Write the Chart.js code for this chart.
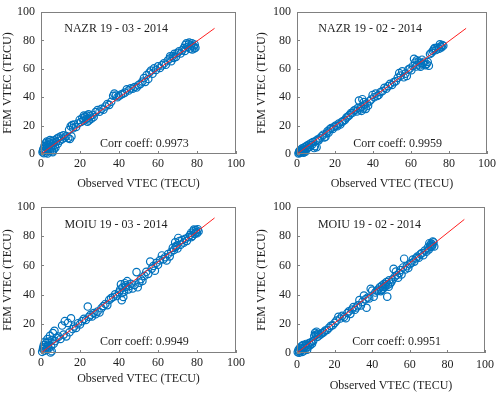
<!DOCTYPE html>
<html lang="en">
<head>
    <meta charset="UTF-8">
    <title>FEM VTEC vs Observed VTEC</title>
    <script src="https://cdn.jsdelivr.net/npm/chart.js"></script>
    <style>
        body { margin: 0; background-color: white; }
        .painel { position: absolute; }
        canvas { display: block; }
    </style>
</head>
<body>
    <div class="painel" style="left: 0px; top: 0px;"><canvas id="c1" width="250" height="195"></canvas></div>
    <div class="painel" style="left: 250px; top: 0px;"><canvas id="c2" width="250" height="195"></canvas></div>
    <div class="painel" style="left: 0px; top: 195px;"><canvas id="c3" width="250" height="198"></canvas></div>
    <div class="painel" style="left: 250px; top: 195px;"><canvas id="c4" width="250" height="198"></canvas></div>
<script>
    // axis ticks and titles
    const tickValues = [0, 20, 40, 60, 80, 100];
    const xTitle = 'Observed VTEC (TECU)';
    const yTitle = 'FEM VTEC (TECU)';

    // NAZR 19-03-2014
    const nazr03Obs = [0.8, 1.2, 1.5, 1.8, 2.1, 2.4, 2.6, 2.9, 3.2, 3.4, 3.7, 4.0, 4.2, 4.5, 4.8, 5.1, 5.3, 5.6, 5.9, 6.2, 6.5, 6.8, 7.1, 7.4, 7.7, 8.2, 8.6, 9.1, 9.6, 10.2, 10.8, 11.5, 12.1, 13.0,
        14.0, 14.4, 14.8, 15.2, 15.6, 16.0, 16.5, 17.0, 18.0, 19.0, 19.8, 20.5, 21.2, 21.8, 22.5, 23.0, 23.5, 24.0, 24.6, 25.2, 25.8, 26.4, 27.0,
        28.0, 29.0, 30.0, 31.0, 32.0, 33.0, 34.0, 35.0, 36.0, 37.0, 37.6, 38.4, 39.2, 40.0, 41.0, 42.0, 43.0, 44.0, 45.0, 46.0, 47.0, 48.0, 49.0, 50.0,
        51.0, 52.0, 52.8, 53.5, 54.2, 55.0, 55.6, 56.4, 57.2, 58.0, 59.0, 60.0, 61.0, 62.0, 63.0, 64.0, 65.0, 66.0, 66.8, 67.6, 68.4, 69.2, 70.0,
        70.8, 71.6, 72.4, 73.2, 74.0, 74.6, 75.2, 75.8, 76.4, 77.0, 77.6, 78.2, 78.8, 79.2,
        1.0, 2.2, 3.0, 4.6, 6.0, 22.0, 24.4, 23.8, 76.0, 77.4, 78.6, 73.8, 68.0, 66.2];
    const nazr03Fem = [1.2, 3.5, 0.6, 5.8, 2.4, 7.5, 1.0, 4.2, 6.1, 0.4, 3.1, 8.2, 5.0, 2.0, 6.8, 4.0, 9.0, 1.8, 5.5, 7.8, 3.2, 9.6, 6.0, 4.5, 8.6, 10.8, 7.2, 11.6, 9.4, 12.5, 10.4, 13.2, 11.5, 12.6,
        11.2, 17.0, 10.6, 19.5, 12.4, 20.4, 18.2, 20.8, 19.0, 21.5, 24.0, 22.5, 25.4, 23.4, 26.2, 24.5, 27.0, 25.2, 23.6, 26.8, 24.8, 27.5, 26.0,
        29.5, 31.0, 29.8, 31.8, 31.2, 33.5, 35.2, 34.6, 36.8, 41.0, 42.5, 41.2, 40.0, 40.8, 41.8, 42.4, 43.2, 45.5, 44.8, 46.2, 46.0, 47.2, 46.8, 48.5,
        49.4, 51.0, 53.5, 50.8, 55.6, 52.8, 57.4, 58.8, 56.6, 60.4, 59.2, 61.8, 60.6, 62.4, 63.8, 62.8, 65.8, 67.2, 65.4, 69.0, 70.6, 68.4, 71.2,
        72.4, 70.8, 73.0, 74.6, 76.8, 78.0, 75.4, 77.2, 74.2, 76.4, 73.6, 75.8, 77.0, 74.8,
        2.2, 5.0, 8.8, 9.8, 1.2, 27.0, 28.0, 22.8, 78.4, 78.0, 74.4, 72.6, 67.6, 68.8];

    // NAZR 19-02-2014
    const nazr02Obs = [0.8, 1.2, 1.6, 2.0, 2.4, 2.8, 3.2, 3.5, 3.8, 4.2, 4.6, 5.0, 5.4, 5.8, 6.3, 6.8, 7.3, 7.8, 8.4, 9.0, 9.4, 9.8, 10.3, 10.8, 11.4, 12.0,
        13.0, 13.8, 14.4, 15.0, 15.5, 16.0, 16.6, 17.2, 18.0, 18.8, 19.6, 20.4, 21.2, 22.0, 22.8, 23.6, 24.4, 25.2, 26.0, 26.8, 27.6, 28.4, 29.2,
        30.0, 30.8, 31.5, 32.0, 32.6, 33.2, 33.8, 34.4, 35.0, 35.6, 36.2, 36.8, 37.4, 38.2, 39.0, 39.8, 40.6, 41.4, 42.2, 43.0, 44.0, 45.0, 46.0,
        47.0, 48.0, 49.0, 50.0, 51.0, 52.0, 53.0, 53.8, 54.6, 55.4, 56.2, 57.0, 57.8, 58.6, 59.4, 60.2, 61.0, 61.6, 62.2, 62.8, 63.4, 64.0, 64.6,
        65.2, 65.8, 66.4, 67.0, 67.6, 68.2, 68.8, 69.4, 70.0, 70.8, 71.6, 72.4, 73.2, 74.0, 74.8, 75.6, 76.4, 77.0,
        1.0, 2.6, 3.6, 4.4, 34.0, 35.2, 63.0, 65.0, 72.0, 75.2, 76.0];
    const nazr02Fem = [0.4, 2.0, 0.8, 3.2, 1.4, 4.0, 2.2, 0.9, 4.6, 3.0, 5.2, 3.6, 6.0, 4.4, 6.6, 5.2, 7.6, 6.4, 8.4, 4.2, 5.6, 9.2, 4.8, 10.2, 9.6, 11.0,
        12.4, 13.6, 11.6, 12.2, 14.4, 16.0, 15.0, 17.4, 18.2, 17.6, 19.2, 20.0, 19.6, 21.4, 20.8, 22.6, 23.2, 24.0, 25.6, 26.4, 27.4, 28.8, 29.0,
        30.6, 31.2, 30.0, 32.4, 37.6, 31.4, 33.2, 38.6, 32.0, 34.8, 31.8, 35.6, 34.0, 37.2, 38.4, 41.6, 40.0, 42.6, 40.8, 41.6, 43.6, 44.4, 46.6,
        46.0, 47.8, 49.4, 48.6, 50.6, 51.2, 53.6, 57.0, 55.2, 58.2, 54.0, 56.6, 55.0, 59.4, 60.2, 59.0, 62.0, 67.0, 64.4, 61.6, 63.0, 65.2, 62.4,
        64.0, 66.4, 63.6, 65.0, 62.6, 63.4, 64.8, 62.2, 70.4, 71.4, 72.6, 74.6, 73.2, 75.0, 74.2, 75.6, 76.8, 76.2,
        1.2, 2.8, 2.0, 1.6, 30.4, 36.6, 66.0, 61.4, 73.8, 77.2, 75.0];

    // MOIU 19-03-2014
    const moiu03Obs = [0.6, 1.0, 1.4, 1.8, 2.2, 2.6, 3.0, 3.3, 3.6, 4.0, 4.3, 4.6, 4.9, 5.2, 5.5, 5.8, 6.1, 6.5, 6.9, 7.3, 8.0, 9.0, 10.0, 10.8,
        11.6, 12.2, 13.0, 13.8, 14.6, 15.4, 16.2, 17.0, 18.0, 19.0, 20.0, 21.0, 22.0, 23.0, 24.0, 24.6, 25.4, 26.2, 27.0, 28.0, 29.0, 30.0,
        31.0, 32.0, 33.0, 34.0, 35.0, 36.0, 37.0, 38.0, 39.0, 40.0, 40.6, 41.0, 41.4, 41.8, 42.2, 42.6, 43.0, 43.6, 44.2, 44.8, 45.4, 46.0,
        47.0, 48.0, 49.0, 49.6, 50.4, 51.2, 52.0, 53.0, 54.0, 55.0, 56.0, 56.8, 57.6, 58.4, 59.2, 60.0, 61.0, 62.0, 62.8, 63.6, 64.4, 65.2,
        66.0, 66.8, 67.6, 68.2, 68.8, 69.4, 70.0, 70.4, 71.0, 71.6, 72.4, 73.2, 74.0, 74.8, 75.6, 76.4, 77.0, 77.6, 78.2, 78.8, 79.4, 80.0, 80.4, 80.8,
        1.2, 2.0, 3.4, 78.4, 79.6, 77.2, 69.0, 41.6, 43.4];
    const moiu03Fem = [0.8, 2.8, 5.2, 1.6, 4.0, 6.8, 2.4, 9.6, 5.6, 3.2, 7.8, 11.8, 0.4, 4.6, 1.2, 9.0, 13.6, 6.4, 15.2, 8.2, 10.4, 11.2, 9.6, 18.8,
        12.6, 21.8, 11.4, 20.6, 14.2, 23.8, 16.4, 18.2, 17.2, 20.4, 19.6, 21.8, 23.4, 22.6, 31.8, 24.8, 26.2, 25.0, 27.4, 26.6, 28.4, 27.8,
        30.6, 32.2, 33.6, 32.8, 36.4, 37.6, 38.4, 40.2, 39.0, 41.6, 43.4, 47.0, 36.2, 44.8, 38.4, 42.0, 47.8, 45.2, 49.2, 43.6, 46.0, 47.4,
        44.2, 46.6, 55.4, 45.0, 48.2, 50.6, 49.4, 52.8, 55.6, 54.2, 62.6, 57.8, 59.6, 56.4, 61.8, 60.4, 63.6, 66.8, 64.2, 65.6, 63.4, 67.8,
        66.2, 69.4, 72.0, 70.6, 75.8, 73.4, 71.6, 78.8, 76.6, 74.2, 77.4, 75.6, 78.2, 76.8, 79.4, 80.8, 82.4, 80.2, 83.6, 81.6, 84.2, 82.0, 84.8, 83.2,
        3.8, 7.6, 4.2, 84.6, 82.8, 79.4, 72.6, 41.2, 46.4];

    // MOIU 19-02-2014
    const moiu02Obs = [0.4, 0.8, 1.2, 1.6, 2.0, 2.4, 2.8, 3.2, 3.6, 4.0, 4.4, 4.8, 5.2, 5.6, 6.0, 6.5, 7.0, 7.5, 8.0, 8.6, 9.2, 9.6, 10.0, 10.4,
        10.8, 11.2, 11.8, 12.6, 13.4, 14.2, 15.0, 16.0, 17.0, 18.0, 19.0, 20.0, 21.0, 22.0, 23.0, 24.0, 25.0, 26.0, 26.8, 27.6, 28.4, 29.2,
        30.0, 30.8, 31.6, 32.4, 33.2, 34.0, 34.8, 35.6, 36.4, 37.0, 37.6, 38.4, 39.2, 40.0, 40.8, 41.6, 42.4, 43.2, 44.0, 44.6, 45.2, 45.8,
        46.4, 47.0, 47.6, 48.0, 48.4, 49.0, 49.6, 50.2, 50.8, 51.4, 52.0, 52.6, 53.2, 53.8, 54.4, 55.0, 55.6, 56.4, 57.0, 57.6, 58.4, 59.2,
        60.0, 60.8, 61.6, 62.4, 63.2, 64.0, 64.8, 65.6, 66.4, 67.2, 68.0, 68.8, 69.6, 70.2, 70.8, 71.4, 72.0, 72.6, 73.0,
        1.0, 2.2, 3.0, 5.4, 46.0, 47.2, 48.8, 45.0, 71.0, 72.2, 71.8, 70.4];
    const moiu02Fem = [0.6, 2.2, 0.2, 3.6, 1.4, 4.6, 2.6, 5.4, 3.4, 1.8, 4.8, 6.2, 3.8, 5.6, 4.4, 6.8, 5.4, 7.4, 6.4, 8.2, 11.6, 13.8, 12.4, 14.6,
        11.0, 13.2, 12.0, 12.8, 13.6, 14.2, 15.4, 15.8, 17.2, 18.6, 19.0, 20.6, 22.2, 24.8, 23.6, 25.4, 24.6, 23.8, 27.4, 28.6, 26.8, 29.8,
        31.4, 29.6, 31.2, 32.6, 36.2, 32.6, 35.0, 39.4, 36.8, 31.0, 38.0, 37.4, 44.0, 42.8, 38.6, 41.4, 42.6, 43.4, 45.0, 42.4, 46.2, 44.0,
        47.4, 45.6, 48.6, 38.6, 46.8, 49.8, 47.6, 48.8, 50.4, 57.6, 52.2, 55.8, 53.4, 51.6, 54.8, 56.8, 53.8, 58.6, 64.6, 57.2, 59.4, 58.2,
        60.8, 61.6, 64.0, 62.6, 64.8, 66.0, 65.2, 67.6, 68.4, 67.0, 70.2, 69.4, 72.2, 71.0, 73.8, 75.0, 74.2, 75.8, 73.0,
        1.4, 3.0, 0.8, 2.2, 45.2, 47.0, 45.4, 43.2, 72.6, 76.4, 73.2, 75.2];

    // red fitted line, start and end
    const fitX = [0, 89];
    const nazr03Fit = [0, 88.5];
    const nazr02Fit = [0, 88.5];
    const moiu03Fit = [0, 92.5];
    const moiu02Fit = [0, 91.5];

    const textColor = '#1e1e1e';
    const boxColor = '#808080';
    const serif = '"Liberation Serif", "DejaVu Serif", serif';

    // box round the plot, inner tick marks and the two texts
    const boxPlugin = {
        id: 'boxPlugin',
        afterDatasetsDraw(chart, args, opts) {
            const ctx = chart.ctx;
            const a = chart.chartArea;
            const sx = chart.scales.x;
            const sy = chart.scales.y;
            ctx.save();
            ctx.strokeStyle = boxColor;
            ctx.lineWidth = 1;
            ctx.strokeRect(Math.round(a.left) + 0.5, Math.round(a.top) + 0.5, Math.round(a.width) - 1, Math.round(a.height) - 1);
            ctx.beginPath();
            tickValues.forEach(v => {
                const px = Math.round(sx.getPixelForValue(v)) + 0.5;
                ctx.moveTo(px, a.bottom);
                ctx.lineTo(px, a.bottom - 3);
                const py = Math.round(sy.getPixelForValue(v)) + 0.5;
                ctx.moveTo(a.left, py);
                ctx.lineTo(a.left + 3, py);
            });
            ctx.stroke();

            ctx.fillStyle = textColor;
            ctx.font = '12px ' + serif;
            ctx.textAlign = 'center';
            ctx.textBaseline = 'middle';
            ctx.fillText(opts.label, sx.getPixelForValue(38.5), sy.getPixelForValue(88));
            ctx.fillText(opts.corr, sx.getPixelForValue(53), sy.getPixelForValue(7.5));
            ctx.restore();
        }
    };

    function makePanel(id, label, corr, obs, fem, fitY, geo) {
        const points = obs.map((v, i) => ({ x: v, y: fem[i] }));
        const fitPoints = fitX.map((v, i) => ({ x: v, y: fitY[i] }));
        const tickFont = { family: serif, size: 12, lineHeight: 1 };
        const titleFont = { family: serif, size: 12 };

        new Chart(document.getElementById(id), {
            type: 'scatter',
            data: {
                datasets: [{
                    data: fitPoints,
                    showLine: true,
                    borderColor: '#ff2020',
                    borderWidth: 1,
                    pointRadius: 0
                }, {
                    data: points,
                    pointStyle: 'circle',
                    pointRadius: 3.7,
                    borderColor: '#0072bd',
                    borderWidth: 1.2,
                    backgroundColor: 'rgba(0,0,0,0)',
                    clip: false
                }]
            },
            options: {
                responsive: false,
                animation: false,
                events: [],
                layout: { padding: { top: geo.top, right: geo.right, left: 0, bottom: 0 } },
                plugins: {
                    legend: { display: false },
                    tooltip: { enabled: false },
                    boxPlugin: { label: label, corr: corr }
                },
                scales: {
                    x: {
                        type: 'linear',
                        min: 0,
                        max: 100,
                        afterBuildTicks: s => { s.ticks = tickValues.map(v => ({ value: v })); },
                        afterFit: s => { s.height = geo.xh; },
                        grid: { display: false, drawTicks: false },
                        border: { display: false },
                        ticks: { padding: geo.xTickPad, color: textColor, font: tickFont, maxRotation: 0 },
                        title: { display: true, text: xTitle, color: textColor, font: titleFont, padding: { top: 0, bottom: geo.xTitlePad } }
                    },
                    y: {
                        type: 'linear',
                        min: 0,
                        max: 100,
                        afterBuildTicks: s => { s.ticks = tickValues.map(v => ({ value: v })); },
                        afterFit: s => { s.width = geo.yw; },
                        grid: { display: false, drawTicks: false },
                        border: { display: false },
                        ticks: { padding: geo.yTickPad, color: textColor, font: tickFont },
                        title: { display: true, text: yTitle, color: textColor, font: titleFont, padding: { top: geo.yTitlePad, bottom: 0 } }
                    }
                }
            },
            plugins: [boxPlugin]
        });
    }

    makePanel('c1', 'NAZR 19 - 03 - 2014', 'Corr coeff: 0.9973', nazr03Obs, nazr03Fem, nazr03Fit,
        { top: 6, right: 14, xh: 41, yw: 41, xTickPad: 4, xTitlePad: 4, yTickPad: 6, yTitlePad: 1 });
    makePanel('c2', 'NAZR 19 - 02 - 2014', 'Corr coeff: 0.9959', nazr02Obs, nazr02Fem, nazr02Fit,
        { top: 6, right: 9, xh: 41, yw: 47, xTickPad: 4, xTitlePad: 4, yTickPad: 6, yTitlePad: 5 });
    makePanel('c3', 'MOIU 19 - 03 - 2014', 'Corr coeff: 0.9949', moiu03Obs, moiu03Fem, moiu03Fit,
        { top: 11, right: 14, xh: 40, yw: 41, xTickPad: 4, xTitlePad: 7, yTickPad: 6, yTitlePad: 1 });
    makePanel('c4', 'MOIU 19 - 02 - 2014', 'Corr coeff: 0.9951', moiu02Obs, moiu02Fem, moiu02Fit,
        { top: 11, right: 9, xh: 40, yw: 47, xTickPad: 6, xTitlePad: 0, yTickPad: 6, yTitlePad: 5 });
</script>
</body>
</html>
